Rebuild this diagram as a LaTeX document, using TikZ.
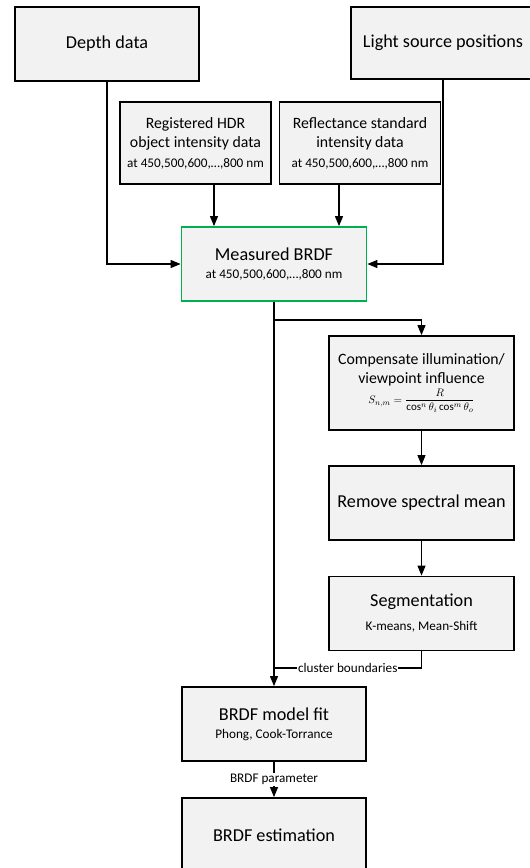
\documentclass[tikz,border=0pt]{standalone}
\usepackage{fontspec}
\setmainfont{Carlito}
\usetikzlibrary{arrows.meta}

\definecolor{boxgray}{HTML}{F2F2F2}
\definecolor{boxgreen}{HTML}{00B050}

\tikzstyle{block} = [rectangle, minimum width = 184, minimum height = 74, inner sep = 0, align = center, draw = black, fill = boxgray, line width = 1.8pt, font = \fontsize{18.2}{22}\selectfont]
\tikzstyle{inbox} = [block, minimum height = 82, font = \fontsize{15.8}{19}\selectfont]
\tikzstyle{arrow} = [line width = 1.1pt, -{Triangle[length = 10pt, width = 8pt]}]
\tikzstyle{line} = [line width = 1.1pt]
\tikzstyle{lab} = [fill = white, inner sep = 1pt, font = \fontsize{13.2}{16}\selectfont]

\newcommand{\subtxt}[1]{{\fontsize{13.2}{16}\selectfont #1}}

\begin{document}
\begin{tikzpicture}[x = 1pt, y = -1pt]

    \useasboundingbox (0,0) rectangle (530,868);

    \node(depth)[block] at (107,44) {Depth data};
    \node(light)[block, minimum height = 72] at (443,43) {Light source positions};
    \node(hdr)[inbox, minimum width = 151] at (195.5,143) {Registered HDR\\object intensity data\\[1pt]\subtxt{at 450,500,600,…,800 nm}};
    \node(refl)[inbox, minimum width = 161] at (360,143) {Reflectance standard\\intensity data\\[1pt]\subtxt{at 450,500,600,…,800 nm}};
    \node(meas)[block, minimum width = 185, draw = boxgreen] at (274,264) {Measured BRDF\\[-4pt]\subtxt{at 450,500,600,…,800 nm}};

    \node(comp)[inbox, minimum width = 185, minimum height = 94] at (421.5,383) {Compensate illumination/\\viewpoint influence\\[1pt]{\fontsize{11}{13}\selectfont$\displaystyle S_{n,m}=\frac{R}{\cos^{n}\theta_{i}\cos^{m}\theta_{o}}$}};
    \node(mean)[block, minimum width = 185] at (421.5,503) {Remove spectral mean};
    \node(seg)[block, minimum width = 185] at (421.5,613.5) {Segmentation\\[2pt]\subtxt{K-means, Mean-Shift}};

    \node(fit)[block] at (274,724) {BRDF model fit\\[-4pt]\subtxt{Phong, Cook-Torrance}};
    \node(est)[block] at (274,835) {BRDF estimation};

    \coordinate(hdrout) at ([xshift = 18.5]hdr.south);
    \coordinate(reflout) at ([xshift = -21]refl.south);
    \coordinate(split) at (274,320);
    \coordinate(join) at (274,668);

    \draw[arrow](depth.south) |- (meas.west);
    \draw[arrow](light.south) |- (meas.east);
    \draw[arrow](hdrout) -- (hdrout |- meas.north);
    \draw[arrow](reflout) -- (reflout |- meas.north);

    \draw[arrow](meas.south) -- (fit.north);
    \draw[arrow](split) -| (comp.north);
    \draw[arrow](comp.south) -- (mean.north);
    \draw[arrow](mean.south) -- (seg.north);
    \draw[line](seg.south) |- node[lab, pos = 0.75] {cluster boundaries} (join);
    \draw[arrow](fit.south) -- node[lab] {BRDF parameter} (est.north);

\end{tikzpicture}
\end{document}
